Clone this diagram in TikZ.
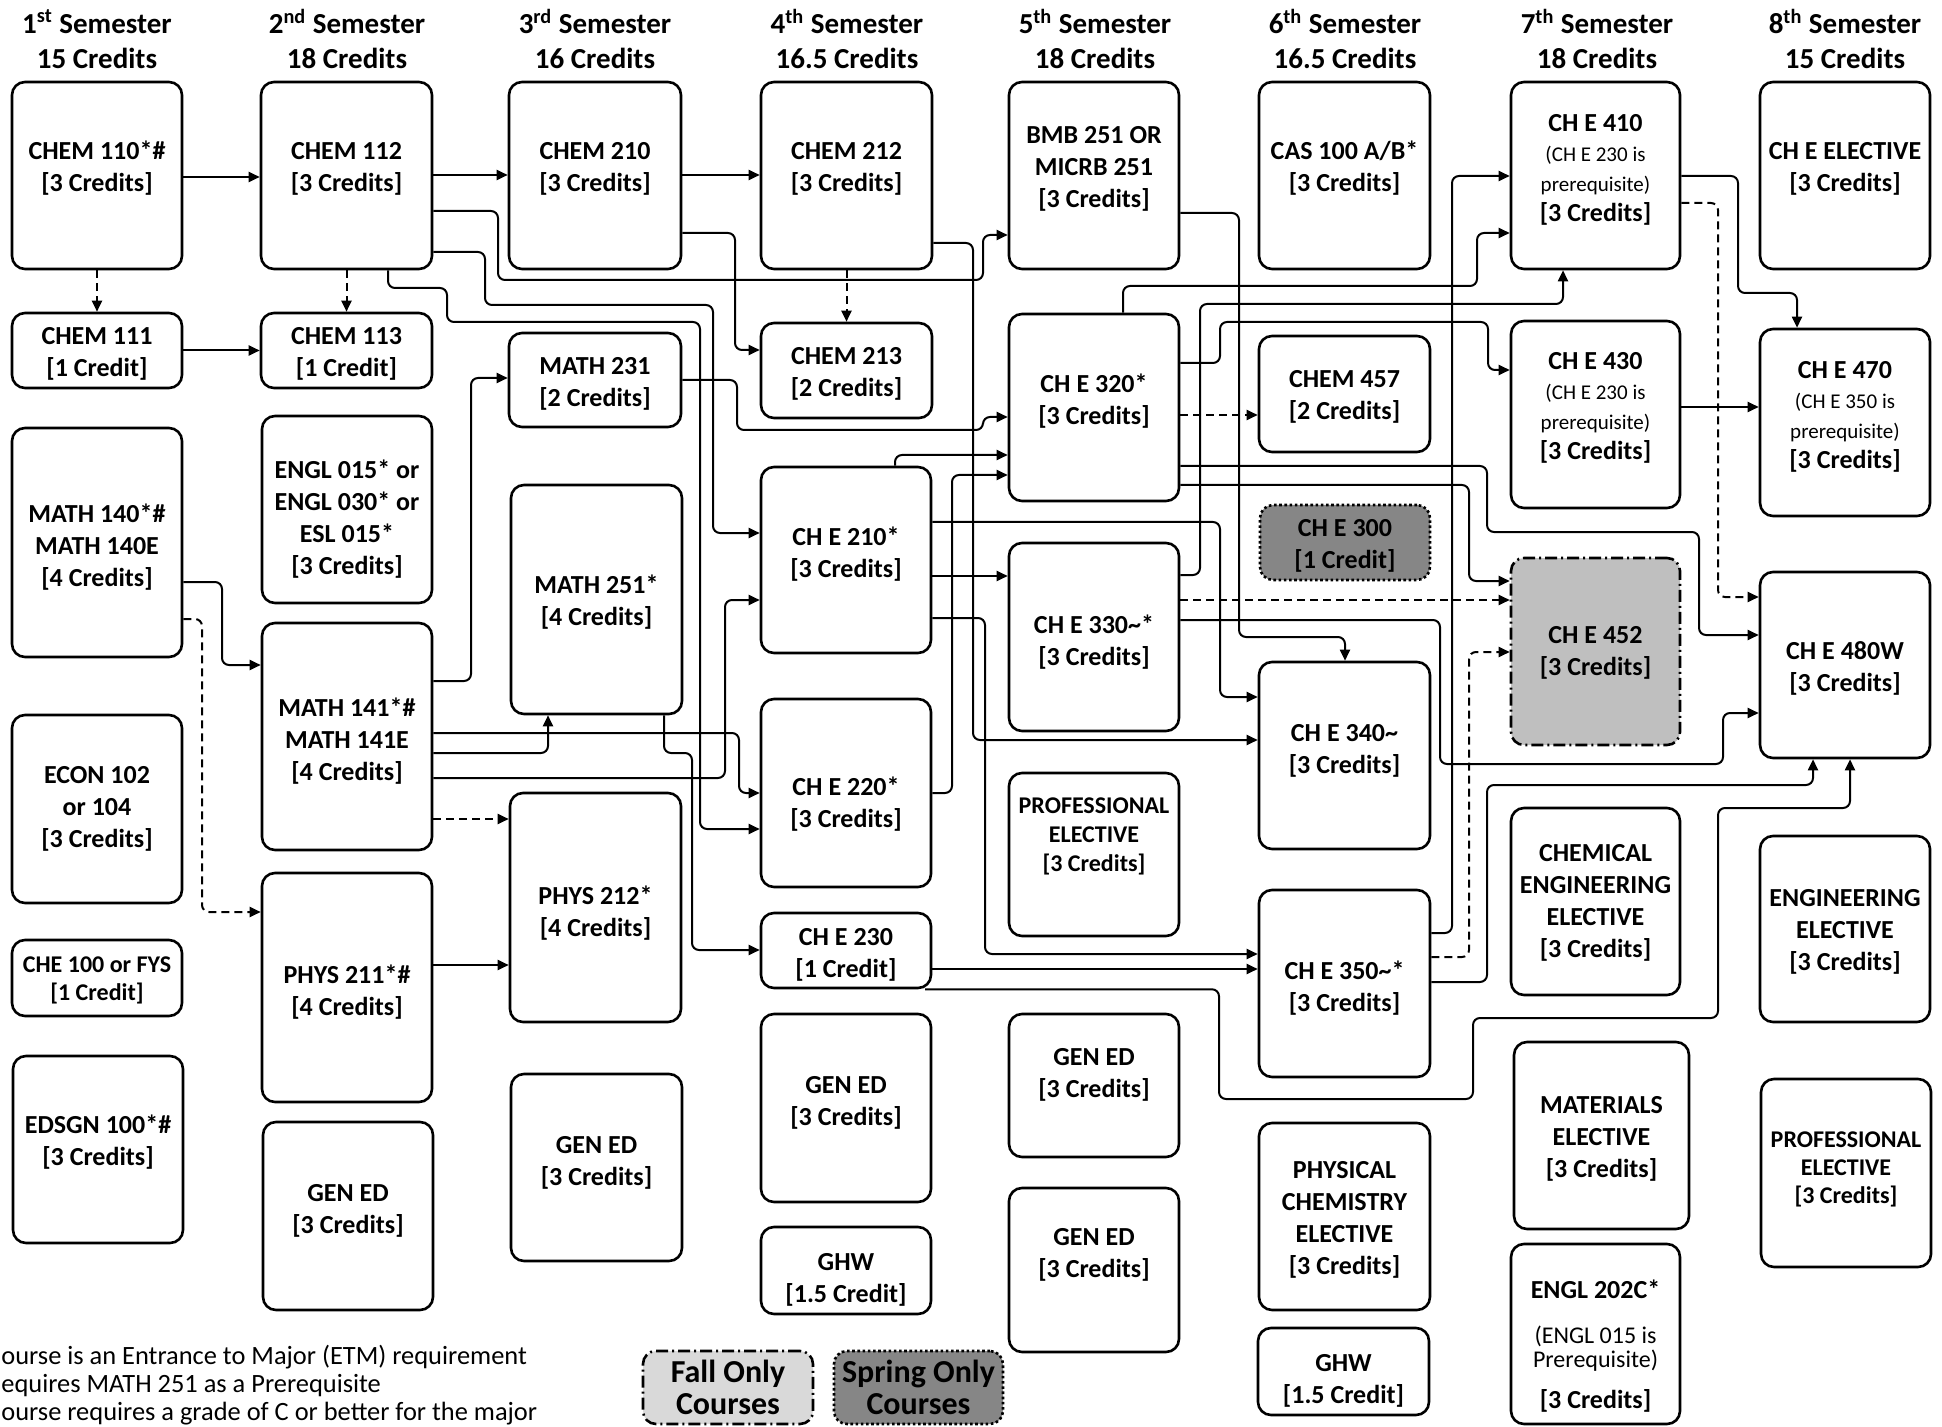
\documentclass[tikz,border=0pt]{standalone}
\usepackage{fontspec}
\setmainfont{Carlito}
\usetikzlibrary{arrows.meta}
\definecolor{fallgray}{HTML}{D9D9D9}
\definecolor{ceggray}{HTML}{BFBFBF}
\definecolor{springgray}{HTML}{868686}
\newcommand{\prq}[1]{{\mdseries\fontsize{10.5}{15}\selectfont #1}}
\newcommand{\prqb}[1]{{\mdseries\fontsize{12}{11.5}\selectfont #1}}
% \course[style]{name}{x1}{y1}{x2}{y2}{text shift}{text}
\newcommand{\course}[8][]{%
 \pgfmathsetmacro{\crsx}{(#3+#5)/2}%
 \pgfmathsetmacro{\crsy}{(#4+#6)/2}%
 \pgfmathsetmacro{\crsw}{(#5-#3)*0.5}%
 \pgfmathsetmacro{\crsh}{(#6-#4)*0.5}%
 \pgfmathsetmacro{\crst}{(#4+#6)/2+#7}%
 \node[box,#1,minimum width=\crsw pt,minimum height=\crsh pt] (#2) at (\crsx,\crsy) {};
 \node[boxtext,#1,draw=none,fill=none] (#2-text) at (\crsx,\crst) {#8};}
\tikzset{
 box/.style={draw, line width=1.3pt, rounded corners=6.5pt, inner sep=0pt},
 boxtext/.style={align=center, inner sep=0pt, font=\bfseries\fontsize{13}{16}\selectfont},
 smallbox/.style={font=\bfseries\fontsize{12}{14.5}\selectfont},
 prereq/.style={font=\bfseries\fontsize{13}{15}\selectfont},
 fallbox/.style={fill=fallgray, dash pattern=on 6pt off 2pt on 1pt off 2pt},
 springbox/.style={fill=springgray, dash pattern=on 1.3pt off 1.3pt},
 hdr/.style={align=center, inner sep=0pt, font=\bfseries\fontsize{14.5}{17.5}\selectfont},
 legtext/.style={inner sep=0pt, anchor=base west, font=\fontsize{13.2}{15}\selectfont},
 conn/.style={line width=1pt, rounded corners=3.5pt, -{Triangle[length=5.5pt,width=5pt]}},
 dconn/.style={conn, dash pattern=on 4pt off 2.5pt},
}
\begin{document}
\begin{tikzpicture}[x=0.5pt,y=-0.5pt]
\useasboundingbox (0,0) rectangle (1942,1427);
% headers
\node[hdr] (h1) at (97,39) {1\textsuperscript{st} Semester\\15 Credits};
\node[hdr] (h2) at (347,39) {2\textsuperscript{nd} Semester\\18 Credits};
\node[hdr] (h3) at (595,39) {3\textsuperscript{rd} Semester\\16 Credits};
\node[hdr] (h4) at (847,39) {4\textsuperscript{th} Semester\\16.5 Credits};
\node[hdr] (h5) at (1095,39) {5\textsuperscript{th} Semester\\18 Credits};
\node[hdr] (h6) at (1345,39) {6\textsuperscript{th} Semester\\16.5 Credits};
\node[hdr] (h7) at (1597,39) {7\textsuperscript{th} Semester\\18 Credits};
\node[hdr] (h8) at (1845,39) {8\textsuperscript{th} Semester\\15 Credits};
% column 1
\course{c110}{12}{82}{182}{269}{-7}{CHEM 110*\#\\{}[3 Credits]}
\course{c111}{12}{313}{182}{388}{3}{CHEM 111\\{}[1 Credit]}
\course{m140}{12}{428}{182}{657}{5}{MATH 140*\#\\MATH 140E\\{}[4 Credits]}
\course{econ}{12}{715}{182}{903}{0}{ECON 102\\or 104\\{}[3 Credits]}
\course[font=\bfseries\fontsize{12}{14}\selectfont]{che100}{12}{940}{182}{1016}{2}{CHE 100 or FYS\\{}[1 Credit]}
\course{edsgn}{13}{1056}{183}{1243}{-7}{EDSGN 100*\#\\{}[3 Credits]}
% column 2
\course{c112}{261}{82}{432}{269}{-7}{CHEM 112\\{}[3 Credits]}
\course{c113}{261}{313}{432}{388}{3}{CHEM 113\\{}[1 Credit]}
\course{engl}{262}{416}{432}{603}{10}{ENGL 015* or\\ENGL 030* or\\ESL 015*\\{}[3 Credits]}
\course{m141}{262}{623}{432}{850}{5}{MATH 141*\#\\MATH 141E\\{}[4 Credits]}
\course{p211}{262}{873}{432}{1102}{5}{PHYS 211*\#\\{}[4 Credits]}
\course{ge2}{263}{1122}{433}{1310}{-5}{GEN ED\\{}[3 Credits]}
% column 3
\course{c210}{509}{82}{681}{269}{-7}{CHEM 210\\{}[3 Credits]}
\course{m231}{509}{333}{681}{427}{4}{MATH 231\\{}[2 Credits]}
\course{m251}{511}{485}{682}{714}{3}{MATH 251*\\{}[4 Credits]}
\course{p212}{510}{793}{681}{1022}{6}{PHYS 212*\\{}[4 Credits]}
\course{ge3}{511}{1074}{682}{1261}{-5}{GEN ED\\{}[3 Credits]}
% column 4
\course{c212}{761}{82}{932}{269}{-7}{CHEM 212\\{}[3 Credits]}
\course{c213}{761}{323}{932}{418}{3}{CHEM 213\\{}[2 Credits]}
\course{ce210}{761}{467}{931}{653}{-6}{CH E 210*\\{}[3 Credits]}
\course{ce220}{761}{699}{931}{887}{11}{CH E 220*\\{}[3 Credits]}
\course{ce230}{761}{913}{931}{988}{4}{CH E 230\\{}[1 Credit]}
\course{ge4}{761}{1014}{931}{1202}{-5}{GEN ED\\{}[3 Credits]}
\course{ghw4}{761}{1227}{931}{1314}{9}{GHW\\{}[1.5 Credit]}
% column 5
\course{bmb}{1009}{82}{1179}{269}{-7}{BMB 251 OR\\MICRB 251\\{}[3 Credits]}
\course{ce320}{1009}{314}{1179}{501}{-6}{CH E 320*\\{}[3 Credits]}
\course{ce330}{1009}{543}{1179}{731}{5}{CH E 330\textasciitilde*\\{}[3 Credits]}
\course[smallbox]{prof5}{1009}{773}{1179}{936}{-18}{PROFESSIONAL\\ELECTIVE\\{}[3 Credits]}
\course{ge5a}{1009}{1014}{1179}{1157}{-11}{GEN ED\\{}[3 Credits]}
\course{ge5b}{1009}{1188}{1179}{1352}{-15}{GEN ED\\{}[3 Credits]}
% column 6
\course{cas}{1259}{82}{1430}{269}{-7}{CAS 100 A/B*\\{}[3 Credits]}
\course{c457}{1259}{336}{1430}{452}{3}{CHEM 457\\{}[2 Credits]}
\course[springbox]{ce300}{1260}{505}{1430}{580}{3}{CH E 300\\{}[1 Credit]}
\course{ce340}{1259}{662}{1430}{849}{-5}{CH E 340\textasciitilde\\{}[3 Credits]}
\course{ce350}{1259}{890}{1430}{1077}{5}{CH E 350\textasciitilde*\\{}[3 Credits]}
\course{pchem}{1259}{1123}{1430}{1310}{3}{PHYSICAL\\CHEMISTRY\\ELECTIVE\\{}[3 Credits]}
\course{ghw6}{1258}{1328}{1429}{1415}{9}{GHW\\{}[1.5 Credit]}
% column 7
\course[prereq]{ce410}{1511}{82}{1680}{269}{-6}{CH E 410\\\prq{(CH E 230 is}\\\prq{prerequisite)}\\{}[3 Credits]}
\course[prereq]{ce430}{1511}{321}{1680}{508}{-7}{CH E 430\\\prq{(CH E 230 is}\\\prq{prerequisite)}\\{}[3 Credits]}
\course[fallbox,fill=ceggray]{ce452}{1511}{558}{1680}{745}{1}{CH E 452\\{}[3 Credits]}
\course{cheel}{1511}{808}{1680}{995}{1}{CHEMICAL\\ENGINEERING\\ELECTIVE\\{}[3 Credits]}
\course{mat}{1514}{1042}{1689}{1229}{3}{MATERIALS\\ELECTIVE\\{}[3 Credits]}
\course[font=\bfseries\fontsize{13}{11.5}\selectfont]{engl202}{1511}{1244}{1680}{1424}{14}{\begin{tabular}{@{}c@{}}ENGL 202C*\\[10pt]\prqb{(ENGL 015 is}\\\prqb{Prerequisite)}\\[7.5pt]{}[3 Credits]\end{tabular}}
% column 8
\course{cheelec}{1760}{82}{1930}{269}{-7}{CH E ELECTIVE\\{}[3 Credits]}
\course[prereq]{ce470}{1760}{329}{1930}{516}{-6}{CH E 470\\\prq{(CH E 350 is}\\\prq{prerequisite)}\\{}[3 Credits]}
\course{ce480}{1760}{572}{1930}{758}{3}{CH E 480W\\{}[3 Credits]}
\course{engel}{1760}{836}{1930}{1022}{3}{ENGINEERING\\ELECTIVE\\{}[3 Credits]}
\course[font=\bfseries\fontsize{12}{14}\selectfont]{prof8}{1761}{1079}{1931}{1267}{-4}{PROFESSIONAL\\ELECTIVE\\{}[3 Credits]}
% legend
\course[fallbox,font=\bfseries\fontsize{16}{16}\selectfont]{fall}{643}{1351}{813}{1424}{0}{Fall Only\\Courses}
\course[springbox,font=\bfseries\fontsize{16}{16}\selectfont]{spring}{834}{1351}{1003}{1424}{0}{Spring Only\\Courses}
\node[legtext] (l1) at (1,1364) {ourse is an Entrance to Major (ETM) requirement};
\node[legtext] (l2) at (1,1392) {equires MATH 251 as a Prerequisite};
\node[legtext] (l3) at (1,1420) {ourse requires a grade of C or better for the major};
% connectors
\draw[conn] (c110.east |- 0,177) -- (c112.west |- 0,177);
\draw[dconn] (c110.south) -- (c111.north);
\draw[conn] (c111.east) -- (c113.west);
\draw[dconn] (c112.south) -- (c113.north);
\draw[conn] (c112.east |- 0,175) -- (c210.west |- 0,175);
\draw[conn] (c112.east |- 0,211) -| (498,280) -| (983,235) -- (bmb.west |- 0,235);
\draw[conn] (c112.east |- 0,252) -| (485,305) -| (713,533) -- (ce210.west |- 0,533);
\draw[conn] (c112.south -| 388,0) |- (447,288) |- (700,322) |- (ce220.west |- 0,829);
\draw[conn] (c210.east |- 0,175) -- (c212.west |- 0,175);
\draw[conn] (c210.east |- 0,233) -| (735,350) -- (c213.west |- 0,350);
\draw[dconn] (c212.south) -- (c213.north);
\draw[conn] (m231.east |- 0,380) -| (737,430) -| (983,417) -- (ce320.west |- 0,417);
\draw[conn] (ce210.north -| 895,0) |- (ce320.west |- 0,455);
\draw[conn] (ce220.east |- 0,793) -| (952,475) -- (ce320.west |- 0,475);
\draw[conn] (ce210.east |- 0,522) -| (1220,697) -- (ce340.west |- 0,697);
\draw[conn] (ce210.east |- 0,576) -- (ce330.west |- 0,576);
\draw[conn] (ce210.east |- 0,618) -| (985,954) -- (ce350.west |- 0,954);
\draw[conn] (c212.east |- 0,243) -| (973,740) -- (ce340.west |- 0,740);
\draw[conn] (bmb.east |- 0,213) -| (1239,637) -| (ce340.north -| 1345,0);
\draw[conn] (ce320.north -| 1123,0) |- (1477,286) |- (ce410.west |- 0,233);
\draw[conn] (ce350.east |- 0,933) -| (1452,176) -- (ce410.west |- 0,176);
\draw[conn] (ce330.east |- 0,575) -| (1200,304) -| (ce410.south -| 1563,0);
\draw[conn] (ce320.east |- 0,363) -| (1220,322) -| (1488,370) -- (ce430.west |- 0,370);
\draw[dconn] (ce320.east |- 0,415) -- (c457.west |- 0,415);
\draw[conn] (ce320.east |- 0,466) -| (1487,532) -| (1699,635) -- (ce480.west |- 0,635);
\draw[conn] (ce320.east |- 0,485) -| (1469,581) -- (ce452.west |- 0,581);
\draw[dconn] (ce330.east |- 0,600) -- (ce452.west |- 0,600);
\draw[conn] (ce330.east |- 0,620) -| (1440,764) -| (1723,713) -- (ce480.west |- 0,713);
\draw[conn] (ce230.east |- 0,969) -- (ce350.west |- 0,969);
\draw[conn] (ce230.south -| 925,0) -| (1219,1099) -| (1473,1018) -| (1718,808) -| (ce480.south -| 1850,0);
\draw[conn] (ce350.east |- 0,982) -| (1487,785) -| (ce480.south -| 1813,0);
\draw[dconn] (ce350.east |- 0,957) -| (1469,652) -- (ce452.west |- 0,652);
\draw[conn] (ce410.east |- 0,176) -| (1738,293) -| (ce470.north -| 1797,0);
\draw[dconn] (ce410.east |- 0,203) -| (1718,597) -- (ce480.west |- 0,597);
\draw[conn] (ce430.east |- 0,407) -- (ce470.west |- 0,407);
\draw[conn] (m141.east |- 0,681) -| (471,378) -- (m231.west |- 0,378);
\draw[conn] (m140.east |- 0,582) -| (222,665) -- (m141.west |- 0,665);
\draw[dconn] (m140.east |- 0,619) -| (202,912) -- (p211.west |- 0,912);
\draw[dconn] (m141.east |- 0,819) -- (p212.west |- 0,819);
\draw[conn] (m141.east |- 0,733) -| (739,793) -- (ce220.west |- 0,793);
\draw[conn] (m141.east |- 0,753) -| (m251.south -| 548,0);
\draw[conn] (m141.east |- 0,778) -| (725,600) -- (ce210.west |- 0,600);
\draw[conn] (m251.south -| 664,0) |- (692,753) |- (ce230.west |- 0,950);
\draw[conn] (p211.east |- 0,965) -- (p212.west |- 0,965);
\end{tikzpicture}
\end{document}
